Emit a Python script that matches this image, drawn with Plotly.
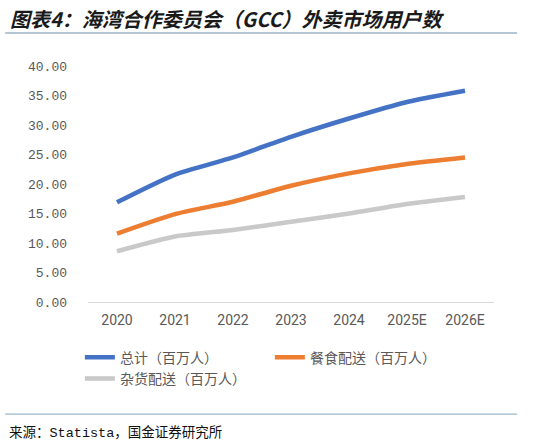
import plotly.graph_objects as go

years = ["2020", "2021", "2022", "2023", "2024", "2025E", "2026E"]
total = [16.9, 21.6, 24.5, 28.0, 31.1, 33.9, 35.8]
food = [11.6, 14.9, 17.0, 19.7, 21.8, 23.4, 24.5]
grocery = [8.6, 11.1, 12.2, 13.6, 15.0, 16.6, 17.8]

names = ["总计（百万人）", "餐食配送（百万人）", "杂货配送（百万人）"]
colors = ["#4472c4", "#ed7d31", "#c9c9c9"]
yticks = [0, 5, 10, 15, 20, 25, 30, 35, 40]

fig = go.Figure()
for vals, nm, col in zip([total, food, grocery], names, colors):
    fig.add_trace(go.Scatter(x=years, y=vals, name=nm, mode="lines",
                             line=dict(color=col, width=4.5, shape="spline", smoothing=0.6)))

cjk = "Noto Sans CJK SC"
fig.update_layout(
    width=533, height=446,
    margin=dict(l=88, r=39, t=66, b=144),
    paper_bgcolor="white", plot_bgcolor="white",
    font=dict(family=cjk, color="#595959", size=12),
    showlegend=True,
    legend=dict(orientation="h", x=-0.02, y=-0.168, xanchor="left", yanchor="top",
                entrywidth=145, font=dict(size=14, color="#595959", family=cjk)),
    xaxis=dict(showgrid=False, showline=True, linecolor="#d9d9d9", linewidth=1,
               range=[-0.5, 6.5], ticks="", ticklabelstandoff=5,
               tickfont=dict(size=14, family="Roboto", color="#595959")),
    yaxis=dict(range=[0, 40], tickvals=yticks, ticktext=["%.2f" % v for v in yticks],
               showgrid=False, zeroline=False, showline=False, ticks="",
               ticklabelstandoff=20,
               tickfont=dict(size=13, family="Liberation Mono", color="#595959")),
)

fig.add_annotation(text="<b><i>图表4：海湾合作委员会（GCC）外卖市场用户数</i></b>",
                   xref="paper", yref="paper", x=-0.197, y=1.203, xanchor="left", yanchor="middle",
                   showarrow=False, font=dict(size=20, color="#1a1a1a", family=cjk))
fig.add_annotation(text="来源：Statista，国金证券研究所",
                   xref="paper", yref="paper", x=-0.1995, y=-0.555, xanchor="left", yanchor="middle",
                   showarrow=False, font=dict(size=13.5, color="#111111", family="Liberation Mono, " + cjk))
# rules under title and above source
fig.add_shape(type="line", xref="paper", yref="paper", x0=-0.204, x1=1.057, y0=1.140, y1=1.140,
              line=dict(color="#b4c6d4", width=2))
fig.add_shape(type="line", xref="paper", yref="paper", x0=-0.204, x1=1.057, y0=-0.475, y1=-0.475,
              line=dict(color="#7fa6c0", width=1))

fig.write_html("out.html", config={"displayModeBar": False},
               post_script="document.body.style.margin='0';")
